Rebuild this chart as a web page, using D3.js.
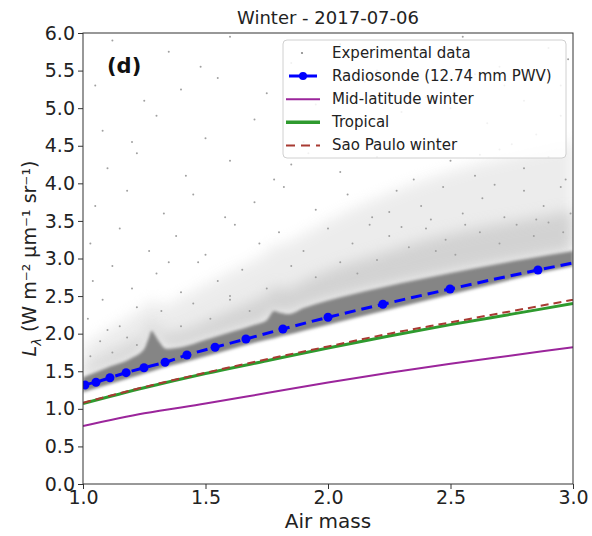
<!DOCTYPE html>
<html><head><meta charset="utf-8">
<script src="https://cdn.jsdelivr.net/npm/d3@7"></script>
<style>body{margin:0;background:#fff}svg{display:block;font-family:"DejaVu Sans",sans-serif}</style>
</head><body>
<svg id="c" width="592" height="536"></svg>
<script>
// ---------------- data ----------------
const title = "Winter - 2017-07-06";
const xTicks = [1.0, 1.5, 2.0, 2.5, 3.0];
const yTicks = [0.0,0.5,1.0,1.5,2.0,2.5,3.0,3.5,4.0,4.5,5.0,5.5,6.0];

// Radiosonde (line points; markers where flagged)
const radAirmass = [1.0, 1.008, 1.053, 1.110, 1.176, 1.249, 1.335, 1.424, 1.539, 1.665, 1.816, 2.0, 2.224, 2.498, 2.857, 3.0];
const radValue   = [1.30, 1.317, 1.353, 1.414, 1.481, 1.547, 1.619, 1.716, 1.819, 1.929, 2.062, 2.218, 2.391, 2.594, 2.847, 2.94];
const radMarker  = [0, 1, 1, 1, 1, 1, 1, 1, 1, 1, 1, 1, 1, 1, 1, 0];

// Model curves
const modelAirmass   = [1.0, 1.25, 1.5, 1.75, 2.0, 2.25, 2.5, 2.75, 3.0];
const midLatWinter   = [0.77, 0.94, 1.07, 1.21, 1.35, 1.48, 1.60, 1.71, 1.82];
const tropical       = [1.07, 1.28, 1.47, 1.64, 1.81, 1.97, 2.12, 2.26, 2.40];
const saoPauloWinter = [1.08, 1.29, 1.48, 1.66, 1.83, 2.00, 2.15, 2.30, 2.45];

// Experimental data: dense core band (lower/upper envelope)
const bandAirmass = [1.0, 1.1, 1.2, 1.25, 1.27, 1.28, 1.29, 1.31, 1.34, 1.4, 1.5, 1.6, 1.7, 1.75, 1.78, 1.8, 1.84, 1.9, 2.0, 2.2, 2.4, 2.6, 2.8, 3.0];
const bandLower   = [1.22, 1.32, 1.42, 1.47, 1.49, 1.50, 1.51, 1.53, 1.56, 1.61, 1.70, 1.79, 1.88, 1.92, 1.94, 1.96, 1.99, 2.04, 2.12, 2.28, 2.44, 2.60, 2.76, 2.90];
const bandUpper   = [1.42, 1.55, 1.68, 1.80, 1.96, 2.04, 2.00, 1.90, 1.80, 1.82, 1.92, 2.02, 2.12, 2.18, 2.30, 2.28, 2.26, 2.34, 2.44, 2.60, 2.74, 2.87, 2.99, 3.10];
// Experimental data: diffuse halo upper envelopes
const haloNear = [1.55, 1.72, 1.88, 2.00, 2.12, 2.18, 2.14, 2.05, 2.00, 2.03, 2.16, 2.30, 2.44, 2.52, 2.62, 2.60, 2.60, 2.70, 2.84, 3.05, 3.25, 3.40, 3.52, 3.64];
const haloFar  = [1.85, 2.05, 2.25, 2.35, 2.42, 2.48, 2.42, 2.38, 2.38, 2.48, 2.65, 2.82, 2.98, 3.08, 3.18, 3.18, 3.22, 3.32, 3.50, 3.80, 4.05, 4.25, 4.40, 4.55];
// Experimental data: sparse scattered points [air mass, radiance]
const sparsePts = [
 [1.12,5.9],[1.35,5.75],[1.6,5.95],[1.85,5.6],[2.05,5.85],[2.3,5.7],[2.55,5.95],[2.7,5.55],[2.9,5.8],[1.48,5.55],[2.2,5.5],[2.98,5.65],
 [1.05,5.3],[1.25,5.1],[1.55,5.4],[1.75,5.2],[1.95,5.05],[2.15,5.35],[2.4,5.15],[2.6,5.45],[2.8,5.1],[2.95,5.3],[2.5,5.0],[2.72,5.3],[1.4,5.25],
 [1.08,4.7],[1.3,4.9],[1.5,4.6],[1.7,4.85],[1.9,4.55],[2.1,4.75],[2.3,4.95],[2.45,4.6],[2.65,4.8],[2.85,4.65],[2.95,4.9],[1.2,4.55],[2.75,4.52],
 [1.1,4.2],[1.22,4.4],[1.42,4.1],[1.6,4.3],[1.78,4.05],[1.92,4.4],[2.05,4.15],[2.2,4.35],[2.35,4.05],[2.5,4.3],[2.6,4.1],[2.7,4.45],[2.8,4.2],[2.9,4.35],[2.97,4.05],[2.4,4.45],[1.85,4.25],[2.62,4.38],
 [1.05,3.7],[1.18,3.9],[1.33,3.6],[1.45,3.85],[1.58,3.55],[1.7,3.75],[1.82,3.95],[1.95,3.65],[2.08,3.85],[2.18,3.55],[2.28,3.9],[2.38,3.7],[2.47,3.95],[2.55,3.6],[2.63,3.8],[2.72,3.55],[2.8,3.9],[2.88,3.7],[2.95,3.95],[2.99,3.6],[2.25,3.62],[2.68,3.98],[2.42,3.52],[2.85,3.52],
 [1.03,3.2],[1.15,3.4],[1.27,3.1],[1.38,3.3],[1.5,3.05],[1.62,3.45],[1.72,3.2],[1.8,3.35],[1.9,3.1],[2.0,3.4],[2.1,3.2],[2.17,3.45],[2.25,3.3],[2.33,3.15],[2.4,3.4],[2.48,3.25],[2.56,3.45],[2.62,3.35],[2.7,3.2],[2.77,3.45],[2.84,3.3],[2.9,3.48],[2.96,3.35],[2.52,3.05],[2.44,3.1],[2.3,3.42],
 [1.04,2.7],[1.12,2.9],[1.2,2.6],[1.3,2.8],[1.4,2.55],[1.47,2.95],[1.55,2.7],[1.65,2.85],[1.75,2.6],[1.85,2.9],[1.95,2.75],[2.05,2.95],[2.12,2.8],[2.2,2.98],[1.6,2.5],[1.35,2.95],
 [1.02,2.2],[1.08,2.45],[1.15,2.1],[1.22,2.35],[1.32,2.3],[1.4,2.1],[1.45,2.4],[1.52,2.2],[1.6,2.45],[1.68,2.3],[1.1,2.05],
 [1.03,1.7],[1.07,1.9],[1.12,1.75],[1.18,1.95],[1.22,1.85]
];

const legendItems = ["Experimental data", "Radiosonde (12.74 mm PWV)", "Mid-latitude winter", "Tropical", "Sao Paulo winter"];

// ---------------- chart ----------------
const svg = d3.select("#c");
const L = 83, R = 573, T = 33, B = 484;
const x = d3.scaleLinear().domain([1, 3]).range([L, R]);
const y = d3.scaleLinear().domain([0, 6]).range([B, T]);

const defs = svg.append("defs");
defs.append("clipPath").attr("id","clip")
  .append("rect").attr("x",L).attr("y",T).attr("width",R-L).attr("height",B-T);
defs.append("filter").attr("id","soft").attr("x","-10%").attr("y","-10%").attr("width","120%").attr("height","120%")
  .append("feGaussianBlur").attr("stdDeviation",7);
defs.append("filter").attr("id","edge")
  .append("feGaussianBlur").attr("stdDeviation",1.6);
const g = svg.append("g").attr("clip-path","url(#clip)");

// experimental data
const bandIdx = d3.range(bandAirmass.length);
const area = (lo, hi) => d3.area().x(i => x(bandAirmass[i])).y0(i => y(lo[i])).y1(i => y(hi[i])).curve(d3.curveMonotoneX);
g.append("path").attr("d", area(bandUpper, haloFar)(bandIdx)).attr("fill","#d6d6d6").attr("opacity",0.45).attr("filter","url(#soft)");
g.append("path").attr("d", area(bandUpper, haloNear)(bandIdx)).attr("fill","#bdbdbd").attr("opacity",0.55).attr("filter","url(#soft)");
g.selectAll(".sp").data(sparsePts).join("circle")
  .attr("cx", d => x(d[0])).attr("cy", d => y(d[1])).attr("r", 1).attr("fill","#a0a0a0");
g.append("path").attr("d", area(bandLower, bandUpper)(bandIdx)).attr("fill","#858585").attr("filter","url(#edge)");

// model lines
const mline = vals => d3.line().x((d,i) => x(modelAirmass[i])).y(d => y(d)).curve(d3.curveMonotoneX)(vals);
g.append("path").attr("d", mline(midLatWinter)).attr("fill","none").attr("stroke","#9b259b").attr("stroke-width",2);
g.append("path").attr("d", mline(tropical)).attr("fill","none").attr("stroke","#2e9a2e").attr("stroke-width",3);
g.append("path").attr("d", mline(saoPauloWinter)).attr("fill","none").attr("stroke","#a83a32").attr("stroke-width",2).attr("stroke-dasharray","8,5");

// radiosonde
const rline = d3.line().x((d,i) => x(radAirmass[i])).y(d => y(d)).curve(d3.curveMonotoneX);
g.append("path").attr("d", rline(radValue)).attr("fill","none").attr("stroke","#0000ff").attr("stroke-width",3).attr("stroke-dasharray","11,6");
g.selectAll(".rm").data(radValue.map((v,i)=>[radAirmass[i], v, radMarker[i]]).filter(d=>d[2]))
  .join("circle").attr("cx", d => x(d[0])).attr("cy", d => y(d[1])).attr("r", 4.5).attr("fill","#0000ff");

// axes
const xa = svg.append("g").attr("transform",`translate(0,${B})`)
  .call(d3.axisBottom(x).tickValues(xTicks).tickFormat(d3.format(".1f")).tickSize(5).tickPadding(2));
const ya = svg.append("g").attr("transform",`translate(${L},0)`)
  .call(d3.axisLeft(y).tickValues(yTicks).tickFormat(d3.format(".1f")).tickSize(5).tickPadding(3));
[xa, ya].forEach(a => {
  a.select(".domain").remove();
  a.selectAll("line").attr("stroke","#333").attr("stroke-width",1);
  a.selectAll("text").attr("font-size",19).attr("fill","#222").attr("font-family","DejaVu Sans");
});
svg.append("rect").attr("x",L).attr("y",T).attr("width",R-L).attr("height",B-T)
  .attr("fill","none").attr("stroke","#333").attr("stroke-width",1);

// title and labels
svg.append("text").attr("x",(L+R)/2).attr("y",24).attr("text-anchor","middle").attr("font-size",18).attr("fill","#222").text(title);
svg.append("text").attr("x",(L+R)/2).attr("y",528).attr("text-anchor","middle").attr("font-size",20).attr("fill","#222").text("Air mass");
const yl = svg.append("text").attr("transform",`translate(36,${(T+B)/2}) rotate(-90)`).attr("text-anchor","middle").attr("font-size",19).attr("fill","#222");
yl.append("tspan").attr("font-style","italic").text("L");
yl.append("tspan").attr("font-style","italic").attr("font-size",13).attr("dy",5).text("λ");
yl.append("tspan").attr("dy",-5).text(" (W m⁻² μm⁻¹ sr⁻¹)");
svg.append("text").attr("x",107).attr("y",73).attr("font-size",21).attr("font-weight","bold").attr("fill","#111").text("(d)");

// legend
const lg = svg.append("g");
lg.append("rect").attr("x",283).attr("y",40).attr("width",283).attr("height",118).attr("rx",4)
  .attr("fill","#fff").attr("fill-opacity",0.85).attr("stroke","#d0d0d0");
const ly = i => 53 + i*23.1;
lg.selectAll("text").data(legendItems).join("text").attr("x",332).attr("y",(d,i)=>ly(i)+5)
  .attr("font-size",15).attr("fill","#222").text(d=>d);
lg.append("circle").attr("cx",302).attr("cy",ly(0)).attr("r",1.1).attr("fill","#888");
lg.append("line").attr("x1",286).attr("x2",320).attr("y1",ly(1)).attr("y2",ly(1)).attr("stroke","#0000ff").attr("stroke-width",3).attr("stroke-dasharray","11,6").attr("stroke-dashoffset",-3);
lg.append("circle").attr("cx",303).attr("cy",ly(1)).attr("r",4).attr("fill","#0000ff");
lg.append("line").attr("x1",286).attr("x2",320).attr("y1",ly(2)).attr("y2",ly(2)).attr("stroke","#9b259b").attr("stroke-width",2);
lg.append("line").attr("x1",286).attr("x2",320).attr("y1",ly(3)).attr("y2",ly(3)).attr("stroke","#2e9a2e").attr("stroke-width",3.5);
lg.append("line").attr("x1",286).attr("x2",320).attr("y1",ly(4)).attr("y2",ly(4)).attr("stroke","#a83a32").attr("stroke-width",2).attr("stroke-dasharray","9,6");
</script>
</body></html>
